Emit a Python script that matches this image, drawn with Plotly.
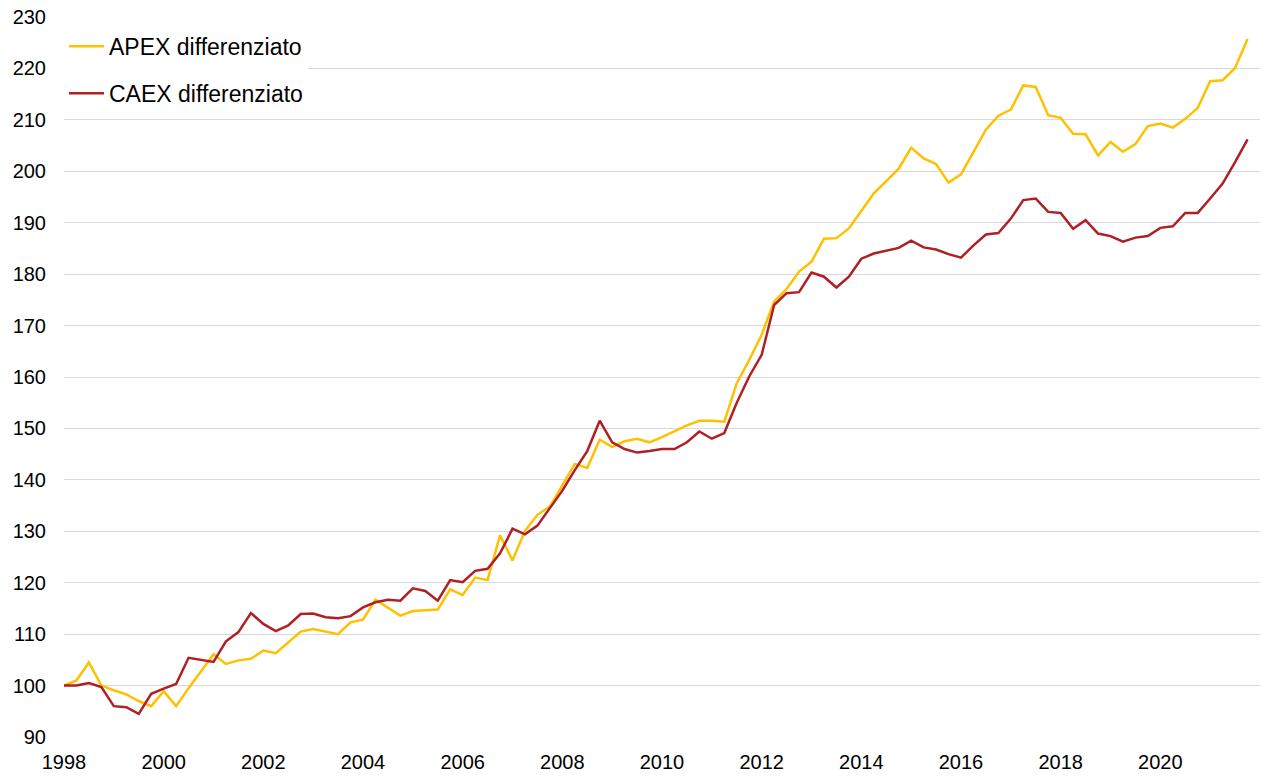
import plotly.graph_objects as go

# %% Dati trimestrali 1998 Q1 - 2021 Q4 (indice 1998 Q1 = 100)

anni = [1998 + i * 0.25 for i in range(96)]

apex = [
    100.0, 101.0, 104.5, 100.0, 99.1, 98.3, 97.0, 96.0,
    98.9, 96.0, 99.5, 102.8, 106.1, 104.2, 104.9, 105.2,
    106.8, 106.3, 108.4, 110.5, 111.0, 110.5, 110.0, 112.3,
    112.8, 116.7, 115.1, 113.6, 114.5, 114.6, 114.8, 118.7,
    117.6, 121.0, 120.5, 129.2, 124.3, 130.1, 133.2, 134.8,
    139.0, 143.1, 142.3, 147.8, 146.4, 147.5, 148.0, 147.3,
    148.3, 149.5, 150.6, 151.5, 151.5, 151.3, 158.8, 163.3,
    168.2, 174.7, 177.1, 180.5, 182.4, 186.9, 187.0, 188.9,
    192.4, 195.7, 198.1, 200.5, 204.6, 202.5, 201.4, 197.8,
    199.4, 203.8, 208.1, 210.8, 212.0, 216.7, 216.4, 210.9,
    210.4, 207.3, 207.2, 203.1, 205.7, 203.8, 205.3, 208.8,
    209.3, 208.5, 210.2, 212.3, 217.5, 217.7, 220.1, 225.7,
]

caex = [
    100.0, 100.0, 100.5, 99.7, 96.0, 95.8, 94.5, 98.4,
    99.4, 100.3, 105.4, 105.0, 104.6, 108.6, 110.4, 114.1,
    112.0, 110.6, 111.7, 113.9, 114.0, 113.3, 113.1, 113.5,
    115.2, 116.2, 116.7, 116.5, 118.9, 118.4, 116.5, 120.5,
    120.1, 122.3, 122.7, 125.7, 130.5, 129.4, 131.1, 134.5,
    137.9, 141.9, 145.6, 151.5, 147.3, 146.0, 145.3, 145.6,
    146.0, 146.0, 147.3, 149.4, 148.0, 149.1, 155.0, 160.1,
    164.3, 174.0, 176.3, 176.5, 180.3, 179.5, 177.4, 179.5,
    183.0, 184.0, 184.5, 185.1, 186.5, 185.2, 184.8, 183.9,
    183.2, 185.6, 187.7, 188.0, 190.8, 194.4, 194.7, 192.1,
    191.9, 188.8, 190.5, 187.9, 187.4, 186.3, 187.1, 187.4,
    189.0, 189.3, 191.9, 191.9, 194.7, 197.6, 201.8, 206.2,
]

tick_anni = list(range(1998, 2021, 2))
tick_y = list(range(90, 231, 10))

# %% Grafico

fig = go.Figure()
fig.add_trace(
    go.Scatter(
        x=anni, y=apex, mode="lines", name="APEX differenziato",
        line=dict(color="#FFC000", width=2.5), legendgroup="a",
    )
)
fig.add_trace(
    go.Scatter(
        x=anni, y=caex, mode="lines", name="CAEX differenziato",
        line=dict(color="#B01F24", width=2.5), legendgroup="b",
    )
)

fig.update_layout(
    width=1261,
    height=778,
    margin=dict(l=64, r=1, t=17, b=41),
    paper_bgcolor="white",
    plot_bgcolor="white",
    font=dict(family="Arial, Liberation Sans, sans-serif", size=20, color="#000000"),
    legend=dict(
        x=0, y=0.989, xanchor="left", yanchor="top",
        bgcolor="white", font=dict(size=23),
        tracegroupgap=14, traceorder="grouped", itemwidth=35,
    ),
)
fig.update_xaxes(
    range=[1998, 2022], tickvals=tick_anni, showgrid=False, automargin=False,
    zeroline=False, showline=False, ticks="", ticklabelstandoff=11,
)
fig.update_yaxes(
    range=[90, 230], tickvals=tick_y, showgrid=True, gridcolor="#D9D9D9",
    gridwidth=1, zeroline=False, showline=False, ticks="", ticklabelstandoff=17,
    automargin=False,
)

# la pagina ha un margine di 8px nel body: lo tolgo
fig.write_html(
    "out.html",
    config={"displayModeBar": False},
    post_script="document.body.style.margin = '0';",
)
